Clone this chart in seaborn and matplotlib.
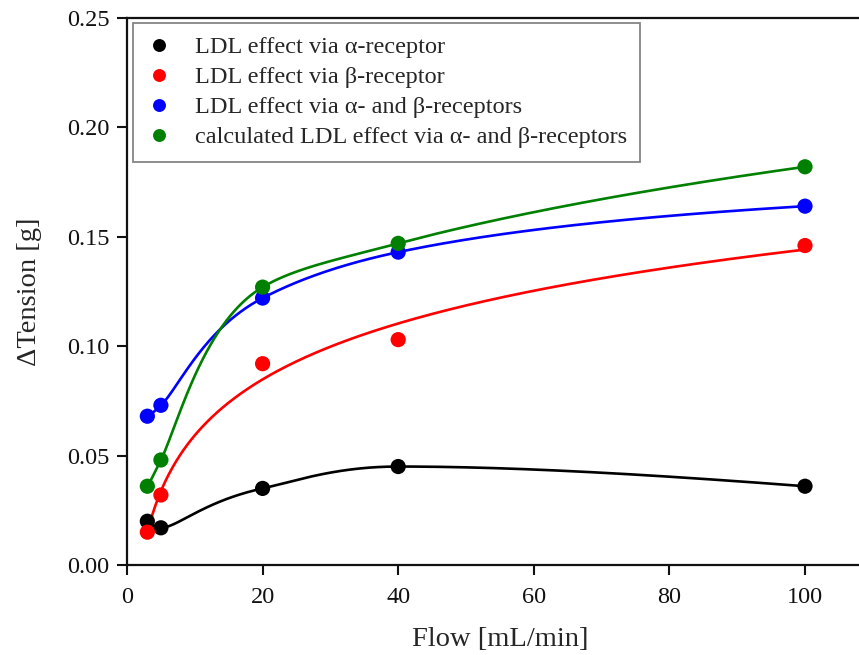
import numpy as np
import pandas as pd
import matplotlib
matplotlib.use("Agg")
import matplotlib.pyplot as plt
import seaborn as sns

# ---- data ----
flow = [3, 5, 20, 40, 100]
alpha_vals = [0.020, 0.017, 0.035, 0.045, 0.036]
beta_vals = [0.015, 0.032, 0.092, 0.103, 0.146]
alphabeta_vals = [0.068, 0.073, 0.122, 0.143, 0.164]
calc_vals = [0.036, 0.048, 0.127, 0.147, 0.182]

series_names = [
    "LDL effect via \u03b1-receptor",
    "LDL effect via \u03b2-receptor",
    "LDL effect via \u03b1- and \u03b2-receptors",
    "calculated LDL effect via \u03b1- and \u03b2-receptors",
]
series_colors = ["#000000", "#ff0000", "#0000ff", "#008000"]
x_ticks = [0, 20, 40, 60, 80, 100]
y_ticks = [0.00, 0.05, 0.10, 0.15, 0.20, 0.25]


def pchip(x, y, xs):
    x = np.asarray(x, float); y = np.asarray(y, float)
    h = np.diff(x); d = np.diff(y) / h
    n = len(x); m = np.zeros(n)
    for k in range(1, n - 1):
        if d[k - 1] * d[k] <= 0:
            m[k] = 0.0
        else:
            w1 = 2 * h[k] + h[k - 1]; w2 = h[k] + 2 * h[k - 1]
            m[k] = (w1 + w2) / (w1 / d[k - 1] + w2 / d[k])
    def end(h0, h1, d0, d1):
        v = ((2 * h0 + h1) * d0 - h0 * d1) / (h0 + h1)
        if np.sign(v) != np.sign(d0):
            v = 0.0
        elif np.sign(d0) != np.sign(d1) and abs(v) > abs(3 * d0):
            v = 3 * d0
        return v
    m[0] = end(h[0], h[1], d[0], d[1])
    m[-1] = end(h[-1], h[-2], d[-1], d[-2])
    xs = np.asarray(xs, float)
    idx = np.clip(np.searchsorted(x, xs) - 1, 0, n - 2)
    t = (xs - x[idx]) / h[idx]
    h00 = 2 * t**3 - 3 * t**2 + 1; h10 = t**3 - 2 * t**2 + t
    h01 = -2 * t**3 + 3 * t**2; h11 = t**3 - t**2
    return (h00 * y[idx] + h10 * h[idx] * m[idx] + h01 * y[idx + 1]
            + h11 * h[idx] * m[idx + 1])


xs = np.linspace(flow[0], flow[-1], 500)
lx, lxs = np.log(flow), np.log(xs)
# red curve is a logarithmic fit of the beta data; others are smooth connections
coef = np.polyfit(lx, beta_vals, 1)
curves = [
    pchip(lx, alpha_vals, lxs),
    np.polyval(coef, lxs),
    pchip(lx, alphabeta_vals, lxs),
    pchip(lx, calc_vals, lxs),
]

pts = pd.concat([
    pd.DataFrame({"flow": flow, "tension": v, "series": nm})
    for v, nm in zip([alpha_vals, beta_vals, alphabeta_vals, calc_vals], series_names)
], ignore_index=True)
lines = pd.concat([
    pd.DataFrame({"flow": xs, "tension": c, "series": nm})
    for c, nm in zip(curves, series_names)
], ignore_index=True)

sns.set_theme(style="ticks")
plt.rcParams["font.family"] = ["Liberation Serif", "DejaVu Serif"]

W, H = 859, 655
fig = plt.figure(figsize=(W / 100, H / 100), dpi=100)
x0, x100, ytop, ybot = 127, 805, 18, 565
xmax = 110
axw = (x100 - x0) / 100 * xmax
ax = fig.add_axes([x0 / W, (H - ybot) / H, axw / W, (ybot - ytop) / H])

palette = dict(zip(series_names, series_colors))
sns.lineplot(data=lines, x="flow", y="tension", hue="series", palette=palette,
             hue_order=series_names, legend=False, linewidth=1.9, ax=ax,
             sort=False, estimator=None)
sns.scatterplot(data=pts, x="flow", y="tension", hue="series", palette=palette,
                hue_order=series_names, s=120, edgecolor="none", ax=ax, zorder=5)

ax.set_xlim(0, xmax)
ax.set_ylim(0, 0.25)
ax.set_xticks(x_ticks)
ax.set_yticks(y_ticks)
ax.set_yticklabels([f"{v:.2f}" for v in y_ticks])
ax.tick_params(direction="out", length=7.5, width=1.5, labelsize=17.5,
               colors="#111111", pad=5)
ax.tick_params(axis="x", pad=8)
for s in ax.spines.values():
    s.set_linewidth(1.6)
    s.set_color("#111111")
ax.set_xlabel("Flow [mL/min]", fontsize=20.5, labelpad=14)
ax.set_ylabel("\u0394Tension [g]", fontsize=20.5, labelpad=18)

handles, labels = ax.get_legend_handles_labels()
leg = ax.legend(handles, labels, loc="upper left",
                bbox_to_anchor=((133 - x0) / axw, 1 - (23 - ytop) / (ybot - ytop)),
                borderaxespad=0, fontsize=17.5, frameon=True, fancybox=False,
                edgecolor="#666666", handlelength=1.0, handletextpad=1.0,
                borderpad=0.55, labelspacing=0.33, markerscale=0.85)
leg.get_frame().set_linewidth(1.3)

fig.savefig("out.png", dpi=100)
